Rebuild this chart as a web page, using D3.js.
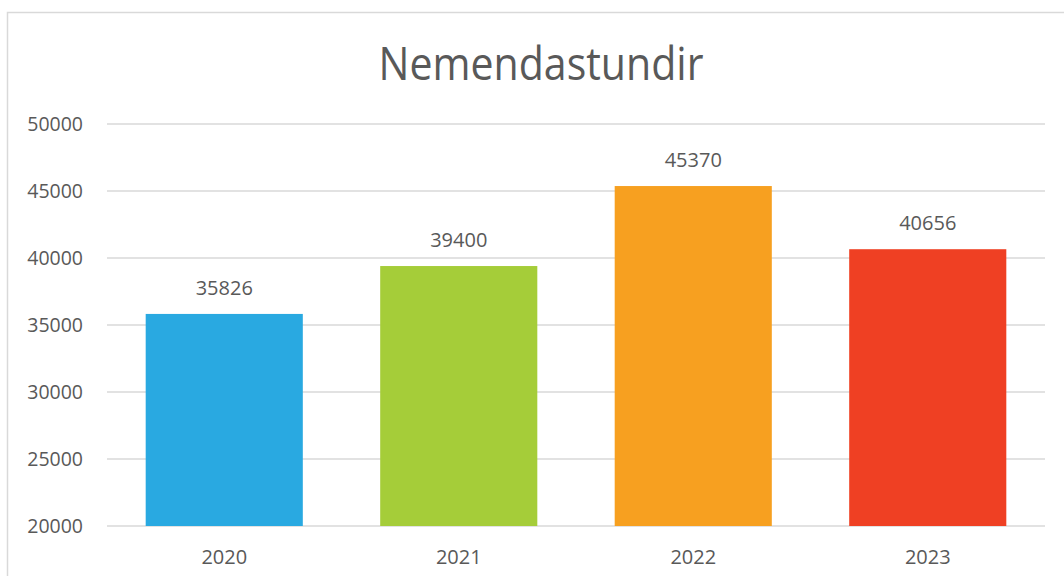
<!DOCTYPE html>
<html>
<head>
<meta charset="utf-8">
<script src="https://cdn.jsdelivr.net/npm/d3@7"></script>
<style>
  body { margin: 0; background: #fff; }
  text { font-family: "Open Sans", sans-serif; fill: #595959; }
</style>
</head>
<body>
<div id="chart"></div>
<script>
var years = ["2020", "2021", "2022", "2023"];
var hours = [35826, 39400, 45370, 40656];
var barColors = ["#29A9E1", "#A5CD39", "#F7A020", "#EF4023"];
var yTicks = [20000, 25000, 30000, 35000, 40000, 45000, 50000];
var chartTitle = "Nemendastundir";

var svgWidth = 1064;
var svgHeight = 576;

var margin = { top: 124, right: 19, bottom: 50, left: 107 };
var chartWidth = svgWidth - margin.left - margin.right;
var chartHeight = 526 - margin.top;

var svg = d3.select("#chart")
    .append("svg")
    .attr("width", svgWidth)
    .attr("height", svgHeight);

// outer frame of the chart, runs off the right and bottom edges
svg.append("rect")
    .attr("x", 7.5)
    .attr("y", 12.5)
    .attr("width", svgWidth)
    .attr("height", svgHeight)
    .attr("fill", "none")
    .attr("stroke", "#D9D9D9")
    .attr("stroke-width", 1.5);

svg.append("text")
    .attr("x", 541)
    .attr("y", 80)
    .attr("text-anchor", "middle")
    .attr("font-size", "45px")
    .attr("textLength", 325)
    .attr("lengthAdjust", "spacingAndGlyphs")
    .text(chartTitle);

var chartGroup = svg.append("g")
    .attr("transform", `translate(${margin.left}, ${margin.top})`);

var xScale = d3.scaleBand()
    .domain(years)
    .range([0, chartWidth])
    .paddingInner(0.33)
    .paddingOuter(0.165);

var yScale = d3.scaleLinear()
    .domain([20000, 50000])
    .range([chartHeight, 0]);

// gridlines
chartGroup.selectAll(".grid")
    .data(yTicks)
    .enter().append("line")
    .attr("class", "grid")
    .attr("x1", 0)
    .attr("x2", chartWidth)
    .attr("y1", d => yScale(d))
    .attr("y2", d => yScale(d))
    .attr("stroke", "#D9D9D9")
    .attr("stroke-width", 1.5);

var leftAxis = d3.axisLeft(yScale)
    .tickValues(yTicks)
    .tickSize(0)
    .tickPadding(24)
    .tickFormat(d3.format("d"));

var yAxis = chartGroup.append("g")
    .call(leftAxis);
yAxis.select(".domain").remove();
yAxis.selectAll("text")
    .attr("font-size", "19.5px")
    .attr("fill", "#595959");

chartGroup.selectAll(".bar")
    .data(hours)
    .enter().append("rect")
    .attr("class", "bar")
    .attr("x", (d, i) => xScale(years[i]))
    .attr("y", d => yScale(d))
    .attr("width", xScale.bandwidth())
    .attr("height", d => chartHeight - yScale(d))
    .attr("fill", (d, i) => barColors[i]);

chartGroup.selectAll(".val")
    .data(hours)
    .enter().append("text")
    .attr("class", "val")
    .attr("x", (d, i) => xScale(years[i]) + xScale.bandwidth() / 2)
    .attr("y", d => yScale(d) - 19)
    .attr("text-anchor", "middle")
    .attr("font-size", "20px")
    .attr("fill", "#404040")
    .text(d => d);

var bottomAxis = d3.axisBottom(xScale)
    .tickSize(0)
    .tickPadding(24);

var xAxis = chartGroup.append("g")
    .attr("transform", `translate(0, ${chartHeight})`)
    .call(bottomAxis);
xAxis.select(".domain").remove();
xAxis.selectAll("text")
    .attr("font-size", "20px")
    .attr("fill", "#595959");
</script>
</body>
</html>
